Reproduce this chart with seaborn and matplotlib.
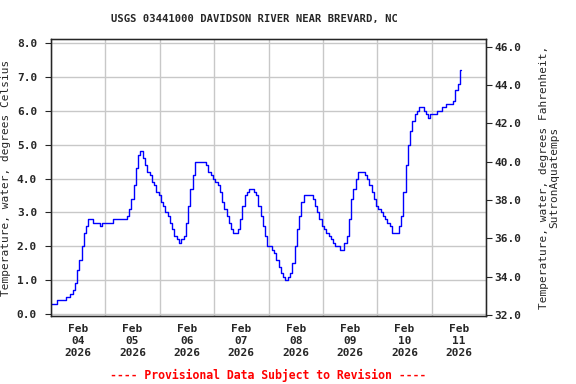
import pandas as pd
import seaborn as sns
import matplotlib.pyplot as plt
import matplotlib.dates as mdates
from matplotlib.ticker import FormatStrFormatter, MultipleLocator

# hourly water temperature (deg C), one list per day
feb04 = [0.3, 0.3, 0.3, 0.4, 0.4, 0.4, 0.4, 0.5, 0.5, 0.6, 0.7, 0.9,
         1.3, 1.6, 2.0, 2.4, 2.6, 2.8, 2.8, 2.7, 2.7, 2.7, 2.6, 2.7]
feb05 = [2.7, 2.7, 2.7, 2.7, 2.8, 2.8, 2.8, 2.8, 2.8, 2.8, 2.9, 3.1,
         3.4, 3.8, 4.3, 4.7, 4.8, 4.6, 4.4, 4.2, 4.1, 3.9, 3.8, 3.6]
feb06 = [3.5, 3.3, 3.2, 3.0, 2.9, 2.7, 2.5, 2.3, 2.2, 2.1, 2.2, 2.3,
         2.7, 3.2, 3.7, 4.1, 4.5, 4.5, 4.5, 4.5, 4.5, 4.4, 4.2, 4.1]
feb07 = [4.0, 3.9, 3.8, 3.6, 3.3, 3.1, 2.9, 2.7, 2.5, 2.4, 2.4, 2.5,
         2.8, 3.2, 3.5, 3.6, 3.7, 3.7, 3.6, 3.5, 3.2, 2.9, 2.6, 2.3]
feb08 = [2.0, 2.0, 1.9, 1.8, 1.6, 1.4, 1.2, 1.1, 1.0, 1.1, 1.2, 1.5,
         2.0, 2.5, 2.9, 3.3, 3.5, 3.5, 3.5, 3.5, 3.4, 3.2, 3.0, 2.8]
feb09 = [2.6, 2.5, 2.4, 2.3, 2.2, 2.1, 2.0, 2.0, 1.9, 1.9, 2.1, 2.3,
         2.8, 3.4, 3.7, 4.0, 4.2, 4.2, 4.2, 4.1, 4.0, 3.8, 3.6, 3.4]
feb10 = [3.2, 3.1, 3.0, 2.9, 2.8, 2.7, 2.6, 2.4, 2.4, 2.4, 2.6, 2.9,
         3.6, 4.4, 5.0, 5.4, 5.7, 5.9, 6.0, 6.1, 6.1, 6.0, 5.9, 5.8]
feb11 = [5.9, 5.9, 5.9, 6.0, 6.0, 6.1, 6.1, 6.2, 6.2, 6.2, 6.3, 6.6,
         6.8, 7.2]

temps = feb04 + feb05 + feb06 + feb07 + feb08 + feb09 + feb10 + feb11
times = pd.date_range("2026-02-04 00:00", periods=len(temps), freq="h")
df = pd.DataFrame({"time": times, "temp_c": temps})

sns.set_style("white")
plt.rcParams["font.family"] = ["DejaVu Sans Mono"]
plt.rcParams["font.weight"] = "bold"
plt.rcParams["font.size"] = 8

fig = plt.figure(figsize=(5.76, 3.84), dpi=100)
ax = fig.add_axes([51 / 576, 1 - 316 / 384, 435 / 576, 277 / 384])

sns.lineplot(
    data=df,
    x="time",
    y="temp_c",
    color="#0000ff",
    linewidth=1.0,
    drawstyle="steps-mid",
    ax=ax
)

ax.set_xlim(pd.Timestamp("2026-02-04"), pd.Timestamp("2026-02-12"))
ax.set_ylim(-0.06, 8.12)
ax.yaxis.set_major_locator(MultipleLocator(1.0))
ax.yaxis.set_major_formatter(FormatStrFormatter("%.1f"))

ax.xaxis.set_major_locator(mdates.DayLocator())
ax.xaxis.set_major_formatter(plt.NullFormatter())
ax.xaxis.set_minor_locator(mdates.HourLocator(byhour=12))
ax.xaxis.set_minor_formatter(mdates.DateFormatter("%b\n%d\n%Y"))
ax.tick_params(axis="x", which="major", length=0)
ax.tick_params(axis="x", which="minor", length=0, pad=6)
ax.tick_params(axis="y", length=4, direction="out", pad=6)

ax.grid(True, which="major", color="#c8c8c8", linewidth=1.0)
ax.set_xlabel("")
ax.set_ylabel("Temperature, water, degrees Celsius", labelpad=4)
for s in ax.spines.values():
    s.set_color("black")
    s.set_linewidth(1.0)

ax2 = ax.twinx()
ax2.set_ylim(31.95, 46.4)
ax2.yaxis.set_major_locator(MultipleLocator(2.0))
ax2.yaxis.set_major_formatter(FormatStrFormatter("%.1f"))
ax2.tick_params(axis="y", length=4, direction="out", pad=2)
ax2.set_ylabel("Temperature, water, degrees Fahrenheit,\nSutronAquatemps",
               labelpad=13, linespacing=1.0)
ax2.grid(False)

fig.text(254 / 576, 1 - 19 / 384,
         "USGS 03441000 DAVIDSON RIVER NEAR BREVARD, NC",
         ha="center", va="center", fontsize=7.6, fontweight="bold")
fig.text(268 / 576, 1 - 375 / 384,
         "---- Provisional Data Subject to Revision ----",
         ha="center", va="center", fontsize=8.3, fontweight="bold",
         color="#ff0000")

plt.savefig("out.png", dpi=100)
